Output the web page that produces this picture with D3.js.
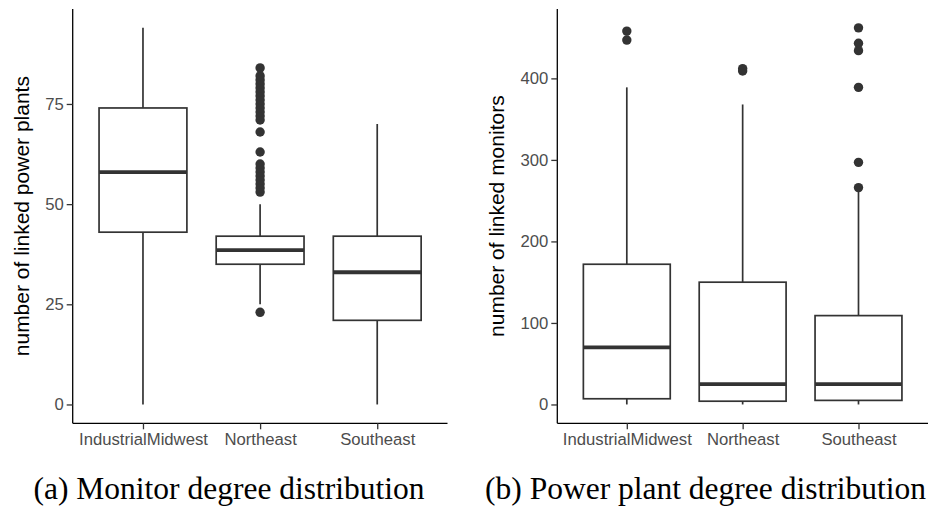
<!DOCTYPE html>
<html>
<head>
<meta charset="utf-8">
<script src="https://cdn.jsdelivr.net/npm/d3@7"></script>
<style>
  html, body { margin: 0; padding: 0; background: #fff; }
  svg { display: block; }
</style>
</head>
<body>
<svg id="chart" width="936" height="506"></svg>
<script>
// ---------- data ----------
const categories = ["IndustrialMidwest", "Northeast", "Southeast"];

// Panel (a): monitor degree -> number of linked power plants
const aWhiskerLow  = [0, 25, 0];
const aQ1          = [43, 35, 21];
const aMedian      = [58, 38.5, 33];
const aQ3          = [74, 42, 42];
const aWhiskerHigh = [94, 50, 70];
const aOutliers = [
  [],
  [23, 53, 54, 55, 56, 57, 58, 59, 60, 63, 68, 71, 72, 73, 74, 75, 76, 77, 78, 79, 80, 81, 82, 84],
  []
];
const aTicks = [0, 25, 50, 75];

// Panel (b): power plant degree -> number of linked monitors
const bWhiskerLow  = [0, 0, 0];
const bQ1          = [7, 4, 5];
const bMedian      = [70, 25, 25];
const bQ3          = [172, 150, 109];
const bWhiskerHigh = [389, 368, 262];
const bOutliers = [
  [447, 458],
  [409, 412],
  [266, 297, 389, 434, 443, 462]
];
const bTicks = [0, 100, 200, 300, 400];

const captions = ["(a) Monitor degree distribution", "(b) Power plant degree distribution"];
const yTitles = ["number of linked power plants", "number of linked monitors"];

// ---------- drawing ----------
const svg = d3.select("#chart");
const INK = "#333333";

function panel(cfg) {
  const g = svg.append("g");
  const all = [].concat(cfg.low, cfg.high, ...cfg.out);
  const [mn, mx] = d3.extent(all);
  const pad = (mx - mn) * 0.05;
  const y = d3.scaleLinear().domain([mn - pad, mx + pad]).range([cfg.bottom, cfg.top]);
  const x = d3.scalePoint().domain(categories).range([cfg.left, cfg.right]).padding(0.6);
  const bw = x.step() * 0.75;

  const rows = categories.map((c, i) => ({
    c, low: cfg.low[i], q1: cfg.q1[i], med: cfg.med[i], q3: cfg.q3[i], high: cfg.high[i], out: cfg.out[i]
  }));

  const box = g.selectAll("g.box").data(rows).enter().append("g").attr("class", "box");
  box.append("line")
    .attr("x1", d => x(d.c)).attr("x2", d => x(d.c))
    .attr("y1", d => y(d.q3)).attr("y2", d => y(d.high))
    .attr("stroke", INK).attr("stroke-width", 1.7);
  box.append("line")
    .attr("x1", d => x(d.c)).attr("x2", d => x(d.c))
    .attr("y1", d => y(d.q1)).attr("y2", d => y(d.low))
    .attr("stroke", INK).attr("stroke-width", 1.7);
  box.append("rect")
    .attr("x", d => x(d.c) - bw / 2).attr("width", bw)
    .attr("y", d => y(d.q3)).attr("height", d => y(d.q1) - y(d.q3))
    .attr("fill", "#fff").attr("stroke", INK).attr("stroke-width", 1.7);
  box.append("line")
    .attr("x1", d => x(d.c) - bw / 2).attr("x2", d => x(d.c) + bw / 2)
    .attr("y1", d => y(d.med)).attr("y2", d => y(d.med))
    .attr("stroke", INK).attr("stroke-width", 3.8);
  box.selectAll("circle").data(d => d.out.map(v => ({ c: d.c, v }))).enter().append("circle")
    .attr("cx", d => x(d.c)).attr("cy", d => y(d.v)).attr("r", 4.7)
    .attr("fill", INK);

  const yAxis = g.append("g").attr("transform", `translate(${cfg.left},0)`)
    .call(d3.axisLeft(y).tickValues(cfg.ticks).tickSize(6).tickPadding(3).tickFormat(d3.format("d")));
  const xAxis = g.append("g").attr("transform", `translate(0,${cfg.bottom})`)
    .call(d3.axisBottom(x).tickSize(6).tickPadding(4));
  [yAxis, xAxis].forEach(a => {
    a.select(".domain").attr("stroke", "#000").attr("stroke-width", 1.3);
    a.selectAll(".tick line").attr("stroke", INK).attr("stroke-width", 1.3);
    a.selectAll(".tick text").attr("fill", "#4d4d4d")
      .style("font-family", "'Liberation Sans', Arial, sans-serif").style("font-size", "16.7px");
  });
  yAxis.select(".domain").attr("d", `M0,${cfg.top}V${cfg.bottom}`);
  xAxis.select(".domain").attr("d", `M${cfg.left},0H${cfg.right}`);

  g.append("text")
    .attr("transform", `translate(${cfg.titleX},${(cfg.top + cfg.bottom) / 2}) rotate(-90)`)
    .attr("text-anchor", "middle")
    .style("font-family", "'Liberation Sans', Arial, sans-serif").style("font-size", "21px")
    .attr("fill", "#000")
    .text(cfg.title);

  svg.append("text")
    .attr("x", cfg.capX).attr("y", 499)
    .attr("text-anchor", "middle")
    .style("font-family", "'Liberation Serif', 'Times New Roman', serif").style("font-size", "31.5px")
    .attr("fill", "#000")
    .text(cfg.caption);
}

panel({
  left: 72.7, right: 447.5, top: 9, bottom: 423.3,
  low: aWhiskerLow, q1: aQ1, med: aMedian, q3: aQ3, high: aWhiskerHigh, out: aOutliers,
  ticks: aTicks, title: yTitles[0], titleX: 28.5, caption: captions[0], capX: 229
});
panel({
  left: 557.3, right: 928, top: 9, bottom: 423.3,
  low: bWhiskerLow, q1: bQ1, med: bMedian, q3: bQ3, high: bWhiskerHigh, out: bOutliers,
  ticks: bTicks, title: yTitles[1], titleX: 504, caption: captions[1], capX: 705.5
});
</script>
</body>
</html>
